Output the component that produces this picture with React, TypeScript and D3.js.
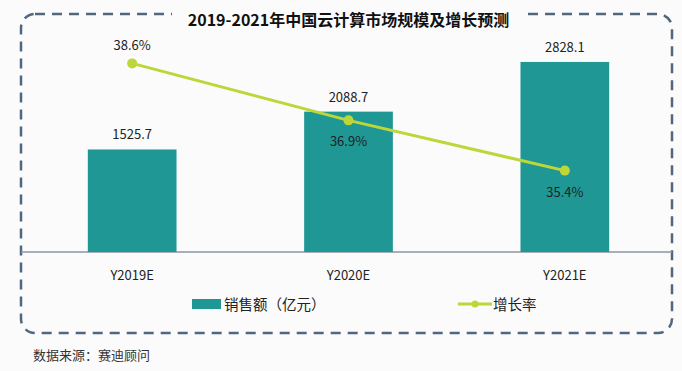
import * as d3 from 'd3'
import React from 'react'

const W = 682
const H = 371

const categories = ['Y2019E', 'Y2020E', 'Y2021E']
const salesValues = [1525.7, 2088.7, 2828.1]
const growthRates = [38.6, 36.9, 35.4]
const salesLabel = '销售额（亿元）'
const growthLabel = '增长率'
const title = '2019-2021年中国云计算市场规模及增长预测'
const sourceNote = '数据来源：赛迪顾问'

const BAR_COLOR = '#1f9795'
const LINE_COLOR = '#bdd639'
const BORDER_COLOR = '#50677d'
const FONT = '"Microsoft YaHei", "Noto Sans CJK SC", sans-serif'

const baseline = 252

export default function App() {
  const x = d3.scaleBand().domain(categories).range([24, 673]).paddingInner(0.59).paddingOuter(0.295)

  // bars measured against the axis baseline
  const y = d3.scaleLinear().domain([0, 3000]).range([baseline, baseline - 3000 * 0.0672])

  const rateY = d3.scaleLinear().domain([35, 39]).range([184, 50])

  const cx = (c: string) => (x(c) as number) + x.bandwidth() / 2

  const line = d3
    .line<number>()
    .x((d, i) => cx(categories[i]))
    .y(d => rateY(d))

  return (
    <svg width={W} height={H} style={{ position: 'absolute', left: 0, top: 0, background: '#fff' }} fontFamily={FONT}>
      <rect x={0} y={0} width={W} height={H} fill="#fbfbfb" />
      <rect
        x={21}
        y={14}
        width={651}
        height={319}
        rx={14}
        fill="none"
        stroke={BORDER_COLOR}
        strokeWidth={2.5}
        strokeDasharray="10 7"
      />
      <rect x={172} y={6} width={353} height={22} fill="#fbfbfb" />
      <text x={348.5} y={26} textAnchor="middle" fontSize={16} fontWeight="bold" fill="#111">
        {title}
      </text>

      <line x1={21} x2={672} y1={baseline} y2={baseline} stroke="#8a96a6" strokeWidth={1.5} />

      {categories.map((c, i) => (
        <g key={c}>
          <rect x={x(c)} y={y(salesValues[i])} width={x.bandwidth()} height={baseline - y(salesValues[i])} fill={BAR_COLOR} />
          <text x={cx(c)} y={y(salesValues[i]) - 10} textAnchor="middle" fontSize={13} fill="#222">
            {salesValues[i].toFixed(1)}
          </text>
          <text x={cx(c)} y={280} textAnchor="middle" fontSize={13} fill="#222">
            {c}
          </text>
        </g>
      ))}

      <path d={line(growthRates) || ''} fill="none" stroke={LINE_COLOR} strokeWidth={3} />
      {categories.map((c, i) => (
        <g key={c + '-rate'}>
          <circle cx={cx(c)} cy={rateY(growthRates[i])} r={5} fill={LINE_COLOR} />
          <text
            x={cx(c)}
            y={i === 0 ? rateY(growthRates[i]) - 13 : rateY(growthRates[i]) + 26}
            textAnchor="middle"
            fontSize={13}
            fill="#222"
          >
            {growthRates[i].toFixed(1) + '%'}
          </text>
        </g>
      ))}

      <g transform="translate(192,299)">
        <rect x={0} y={0} width={29} height={10} fill={BAR_COLOR} />
        <text x={32} y={11} fontSize={14.5} fill="#222">
          {salesLabel}
        </text>
      </g>
      <g transform="translate(458,304)">
        <line x1={0} x2={34} y1={0} y2={0} stroke={LINE_COLOR} strokeWidth={3} />
        <circle cx={17} cy={0} r={3.5} fill={LINE_COLOR} />
        <text x={35} y={6} fontSize={14.5} fill="#222">
          {growthLabel}
        </text>
      </g>

      <text x={33} y={360} fontSize={13} fill="#333">
        {sourceNote}
      </text>
    </svg>
  )
}
